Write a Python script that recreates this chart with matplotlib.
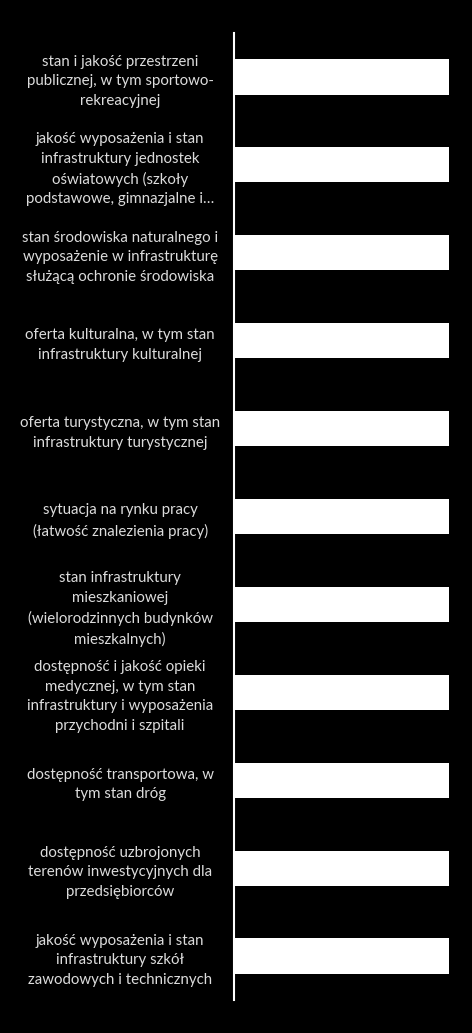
import numpy as np
import matplotlib.pyplot as plt

categories = [
    "stan i jakość przestrzeni\npublicznej, w tym sportowo-\nrekreacyjnej",
    "jakość wyposażenia i stan\ninfrastruktury jednostek\noświatowych (szkoły\npodstawowe, gimnazjalne i…",
    "stan środowiska naturalnego i\nwyposażenie w infrastrukturę\nsłużącą ochronie środowiska",
    "oferta kulturalna, w tym stan\ninfrastruktury kulturalnej",
    "oferta turystyczna, w tym stan\ninfrastruktury turystycznej",
    "sytuacja na rynku pracy\n(łatwość znalezienia pracy)",
    "stan infrastruktury\nmieszkaniowej\n(wielorodzinnych budynków\nmieszkalnych)",
    "dostępność i jakość opieki\nmedycznej, w tym stan\ninfrastruktury i wyposażenia\nprzychodni i szpitali",
    "dostępność transportowa, w\ntym stan dróg",
    "dostępność uzbrojonych\nterenów inwestycyjnych dla\nprzedsiębiorców",
    "jakość wyposażenia i stan\ninfrastruktury szkół\nzawodowych i technicznych",
]
values = [100, 100, 100, 100, 100, 100, 100, 100, 100, 100, 100]

fig = plt.figure(figsize=(4.72, 10.33), dpi=100, facecolor="black")
ax = fig.add_axes([234 / 472, 1 - 1000 / 1033, (449 - 234) / 472, 967 / 1033])
ax.set_facecolor("black")

y = np.arange(len(categories))
ax.barh(y, values, height=0.4, color="white")

ax.set_xlim(0, 100)
ax.set_ylim(len(categories) - 0.5, -0.5)
ax.set_xticks([])
ax.set_yticks(y)
ax.set_yticklabels(categories, ha="center", color="#dcdcdc",
                   fontsize=10.8, family="Lato", linespacing=1.5)
ax.tick_params(axis="y", length=0, pad=82)

for side in ["top", "right", "bottom"]:
    ax.spines[side].set_visible(False)
ax.spines["left"].set_color("white")
ax.spines["left"].set_linewidth(1.5)

fig.savefig("out.png", dpi=100, facecolor="black")
